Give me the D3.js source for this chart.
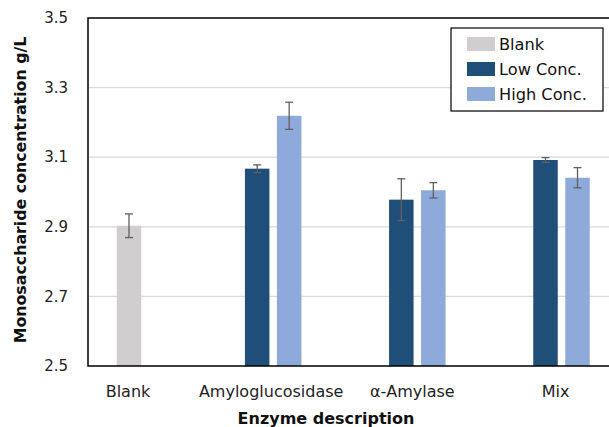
<!DOCTYPE html>
<html>
<head>
<meta charset="utf-8">
<script src="https://cdn.jsdelivr.net/npm/d3@7"></script>
<style>
  html, body { margin: 0; padding: 0; background: #fff; }
  svg { display: block; font-family: "DejaVu Sans", Verdana, sans-serif; }
</style>
</head>
<body>
<svg id="chart" width="609" height="427"></svg>
<script>
// Enzyme treatments on the x axis
const categories = ["Blank", "Amyloglucosidase", "\u03b1-Amylase", "Mix"];
const seriesNames = ["Blank", "Low Conc.", "High Conc."];
const seriesColors = ["#d0cece", "#1f4e79", "#8eaadb"];

// Mean monosaccharide concentration (g/L) per series; null where no bar exists
const blankValues = [2.903, null, null, null];
const lowValues   = [null, 3.067, 2.978, 3.092];
const highValues  = [null, 3.219, 3.005, 3.041];

// Error (±) per series
const blankErrors = [0.034, null, null, null];
const lowErrors   = [null, 0.011, 0.060, 0.007];
const highErrors  = [null, 0.039, 0.022, 0.029];

const yTicks = [2.5, 2.7, 2.9, 3.1, 3.3, 3.5];

const svg = d3.select("#chart");
const plot = { left: 88, top: 18, right: 611, bottom: 366 };

const x = d3.scalePoint().domain(categories).range([129, 561.5]);
const y = d3.scaleLinear().domain([2.5, 3.5]).range([plot.bottom, plot.top]);

const barW = 24.5;
const pairOffset = 16;

// Gridlines
svg.append("g")
  .selectAll("line")
  .data(yTicks.slice(1, -1))
  .join("line")
  .attr("x1", plot.left).attr("x2", plot.right)
  .attr("y1", d => y(d)).attr("y2", d => y(d))
  .attr("stroke", "#d9d9d9").attr("stroke-width", 1.2);

// Flatten series into bars
const seriesData = [
  { name: seriesNames[0], color: seriesColors[0], values: blankValues, errors: blankErrors },
  { name: seriesNames[1], color: seriesColors[1], values: lowValues, errors: lowErrors },
  { name: seriesNames[2], color: seriesColors[2], values: highValues, errors: highErrors }
];
const bars = [];
categories.forEach((cat, i) => {
  const present = seriesData.filter(s => s.values[i] != null);
  present.forEach((s, j) => {
    const off = present.length === 1 ? 0 : (j === 0 ? -pairOffset : pairOffset);
    bars.push({ cat, cx: x(cat) + off, value: s.values[i], err: s.errors[i], color: s.color });
  });
});

svg.append("g")
  .selectAll("rect")
  .data(bars)
  .join("rect")
  .attr("x", d => d.cx - barW / 2)
  .attr("width", barW)
  .attr("y", d => y(d.value))
  .attr("height", d => y(2.5) - y(d.value))
  .attr("fill", d => d.color);

// Error bars
const eg = svg.append("g").attr("stroke", "#606060").attr("stroke-width", 1.3).attr("fill", "none");
bars.forEach(d => {
  const yt = y(d.value + d.err), yb = y(d.value - d.err);
  eg.append("line").attr("x1", d.cx).attr("x2", d.cx).attr("y1", yt).attr("y2", yb);
  eg.append("line").attr("x1", d.cx - 4).attr("x2", d.cx + 4).attr("y1", yt).attr("y2", yt);
  eg.append("line").attr("x1", d.cx - 4).attr("x2", d.cx + 4).attr("y1", yb).attr("y2", yb);
});

// Plot frame (left, top, bottom)
svg.append("path")
  .attr("d", `M${plot.right},${plot.top}H${plot.left}V${plot.bottom}H${plot.right}`)
  .attr("fill", "none").attr("stroke", "#000").attr("stroke-width", 1.5);

// Y axis tick labels
svg.append("g")
  .selectAll("text")
  .data(yTicks)
  .join("text")
  .attr("x", 68).attr("y", d => y(d))
  .attr("dy", "0.35em")
  .attr("text-anchor", "end")
  .attr("font-size", 15)
  .attr("fill", "#222")
  .text(d => d.toFixed(1));

// X axis category labels
svg.append("g")
  .selectAll("text")
  .data(categories)
  .join("text")
  .attr("x", (d, i) => x(d) + [-1, -2, -5, -6][i])
  .attr("y", 397)
  .attr("text-anchor", "middle")
  .attr("font-size", 16)
  .attr("fill", "#222")
  .text(d => d);

// Axis titles
svg.append("text")
  .attr("x", 326).attr("y", 424)
  .attr("text-anchor", "middle")
  .attr("font-size", 16).attr("font-weight", "bold")
  .attr("fill", "#111")
  .text("Enzyme description");

svg.append("text")
  .attr("transform", "translate(26,190) rotate(-90)")
  .attr("text-anchor", "middle")
  .attr("font-size", 15.8).attr("font-weight", "bold")
  .attr("fill", "#111")
  .text("Monosaccharide concentration g/L");

// Legend
const lg = svg.append("g");
lg.append("rect")
  .attr("x", 451).attr("y", 28).attr("width", 152).attr("height", 83)
  .attr("fill", "#fff").attr("stroke", "#000").attr("stroke-width", 1.2);
seriesData.forEach((s, i) => {
  const cy = 44 + i * 25;
  lg.append("rect")
    .attr("x", 467).attr("y", cy - 7).attr("width", 28).attr("height", 14)
    .attr("fill", s.color);
  lg.append("text")
    .attr("x", 499).attr("y", cy).attr("dy", "0.35em")
    .attr("font-size", 16.2).attr("fill", "#111")
    .text(s.name);
});
</script>
</body>
</html>
